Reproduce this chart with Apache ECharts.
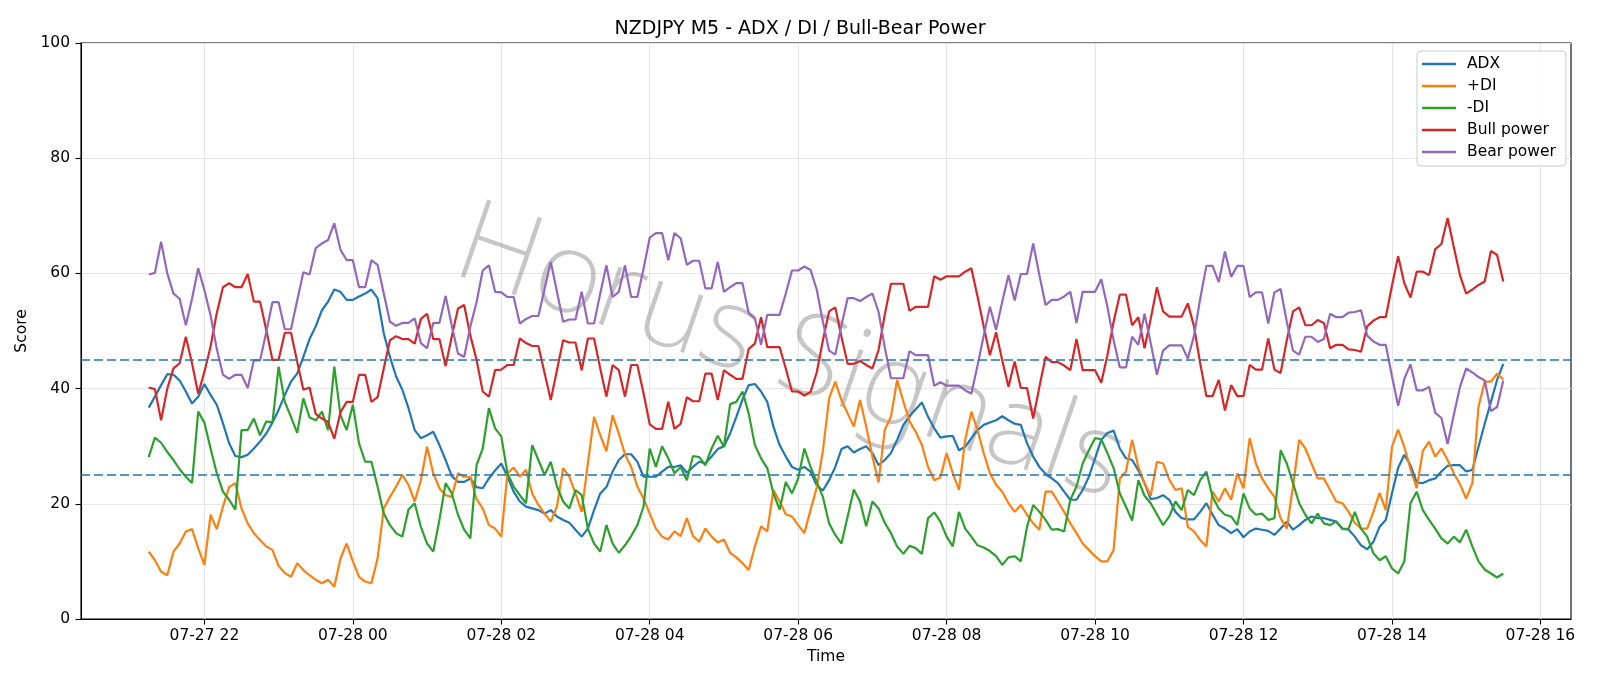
<!DOCTYPE html>
<html>
<head>
<meta charset="utf-8">
<title>NZDJPY M5 - ADX / DI / Bull-Bear Power</title>
<script src="https://cdn.jsdelivr.net/npm/echarts@6/dist/echarts.min.js"></script>
<style>
  html, body { margin: 0; padding: 0; background: #fff; }
  #main { width: 1600px; height: 686px; }
</style>
</head>
<body>
<div id="main"></div>
<script>
// 5-minute bars, 07-27 21:15 -> 07-28 15:30
const startTime = Date.UTC(2025, 6, 27, 21, 15);
const stepMs = 5 * 60 * 1000;

const tickLabels = ['07-27 22', '07-28 00', '07-28 02', '07-28 04', '07-28 06',
  '07-28 08', '07-28 10', '07-28 12', '07-28 14', '07-28 16'];

const adx = [36.7, 38.6, 40.6, 42.5, 42.4, 41.4, 39.5, 37.4, 38.6, 40.8, 38.9, 37.2, 34.0, 30.5, 28.3, 28.1, 28.5, 29.6, 30.8, 32.2, 34.1, 36.3, 38.9, 41.2, 42.6, 45.5, 48.6,
  50.8, 53.6, 55.1, 57.2, 56.8, 55.4, 55.4, 56.0, 56.5, 57.2, 55.7, 49.6, 45.5, 42.1, 39.8, 36.6, 32.8, 31.4, 31.9, 32.5, 30.2, 27.6, 24.8, 23.8, 23.8, 24.4, 22.9,
  22.7, 24.4, 25.8, 27.0, 24.7, 22.1, 20.4, 19.5, 19.2, 18.9, 18.3, 18.9, 17.8, 17.2, 16.7, 15.5, 14.3, 15.7, 18.9, 21.8, 22.9, 25.6, 27.6, 28.6, 28.6, 27.3, 24.7,
  24.7, 24.7, 25.6, 26.4, 26.4, 26.7, 25.4, 26.4, 27.3, 27.0, 28.2, 29.5, 30.0, 32.2, 35.1, 38.1, 40.6, 40.8, 39.5, 37.7, 33.4, 30.2, 28.2, 26.4, 25.9, 26.4, 25.6, 23.2,
  22.3, 24.1, 26.4, 29.5, 30.0, 28.9, 29.5, 30.0, 28.8, 26.7, 27.6, 28.8, 31.1, 33.7, 35.2, 36.4, 37.6, 35.1, 33.1, 31.5, 31.7, 31.8, 29.3, 29.9, 31.4, 32.8, 33.7, 34.1,
  34.5, 35.2, 34.5, 33.9, 33.7, 30.5, 28.2, 26.4, 25.2, 24.4, 23.6, 22.1, 20.7, 20.7, 22.4, 24.7, 27.9, 31.1, 32.3, 32.7, 29.6, 27.9, 27.6, 25.8, 23.6, 20.8, 21.0,
  21.5, 20.7, 18.6, 17.5, 17.3, 17.3, 18.6, 20.1, 18.1, 16.3, 15.7, 14.9, 15.6, 14.2, 15.2, 15.7, 15.5, 15.3, 14.6, 15.7, 16.9, 15.5, 16.3, 17.2, 17.8, 17.5, 17.5, 17.2,
  16.9, 15.7, 15.5, 14.3, 12.8, 12.1, 13.4, 16.0, 17.2, 21.8, 26.2, 28.5, 26.7, 23.7, 23.6, 24.1, 24.4, 25.6, 26.6, 26.7, 26.7, 25.6, 25.9, 29.9, 33.9, 37.7, 41.5, 44.3];

const plusDI = [11.7, 10.2, 8.2, 7.6, 11.7, 13.1, 15.2, 15.6, 12.3, 9.4, 18.1, 15.6, 19.5, 22.9, 23.6, 19.2, 16.6, 14.9, 13.7, 12.6, 12.0, 9.2, 8.0, 7.3, 9.7, 8.5, 7.6,
  6.8, 6.2, 6.8, 5.6, 10.5, 13.1, 10.0, 7.3, 6.5, 6.2, 10.5, 19.2, 21.2, 23.0, 25.0, 23.3, 20.4, 24.1, 29.9, 25.3, 22.7, 21.5, 21.2, 25.3, 24.7, 24.7, 20.8,
  19.2, 16.3, 15.7, 14.3, 25.3, 26.3, 24.7, 25.9, 21.8, 19.8, 18.3, 16.9, 19.5, 26.2, 24.7, 21.8, 18.6, 27.0, 35.1, 31.9, 29.1, 35.4, 32.2, 28.6, 26.4, 23.0, 20.9,
  18.3, 15.7, 14.3, 13.8, 15.2, 14.4, 17.5, 14.4, 13.4, 15.7, 14.3, 13.3, 13.8, 11.5, 10.7, 9.7, 8.5, 12.6, 16.1, 15.2, 22.4, 20.4, 18.2, 17.8, 16.3, 14.9, 18.9, 22.8,
  29.2, 38.3, 41.2, 38.0, 35.7, 33.4, 38.0, 33.4, 28.2, 23.7, 32.8, 35.1, 41.5, 37.8, 34.3, 32.5, 30.2, 26.4, 24.1, 24.6, 28.8, 25.3, 22.4, 31.1, 36.0, 32.8, 28.8, 25.3,
  23.3, 22.1, 20.1, 18.6, 19.8, 18.1, 16.6, 15.5, 22.1, 22.1, 20.4, 18.6, 16.6, 14.9, 13.1, 12.0, 10.9, 10.0, 10.0, 12.0, 24.4, 25.6, 31.1, 26.4, 23.6, 21.4, 27.3,
  27.0, 24.2, 22.4, 22.7, 16.0, 15.2, 13.7, 12.6, 22.1, 20.4, 22.7, 20.7, 25.3, 22.7, 31.4, 27.0, 24.4, 22.7, 21.2, 17.5, 15.7, 23.0, 31.1, 29.6, 27.0, 24.4, 24.4, 22.4,
  20.4, 20.1, 18.6, 16.7, 15.7, 15.7, 18.6, 21.9, 18.9, 29.9, 32.9, 29.9, 26.0, 22.7, 29.2, 30.8, 28.2, 29.6, 27.6, 25.3, 23.4, 20.9, 23.6, 36.9, 41.2, 41.2, 42.6, 41.6];

const minusDI = [28.1, 31.5, 30.6, 29.0, 27.6, 26.0, 24.7, 23.6, 36.0, 34.1, 29.6, 25.3, 22.1, 20.7, 19.0, 32.8, 32.8, 34.8, 31.9, 34.3, 34.1, 43.8, 37.7, 35.1, 32.3, 38.3, 35.0,
  34.5, 36.0, 32.8, 43.8, 35.4, 32.8, 37.2, 30.5, 27.3, 27.3, 23.0, 18.3, 16.3, 14.9, 14.3, 19.0, 20.1, 16.0, 13.1, 11.7, 17.2, 23.6, 21.8, 18.1, 15.5, 14.0, 26.7,
  29.6, 36.6, 33.1, 31.7, 25.3, 23.0, 21.5, 20.1, 30.2, 27.6, 25.0, 27.3, 23.0, 20.4, 19.2, 22.4, 21.5, 15.7, 13.1, 11.7, 16.3, 13.1, 11.5, 12.8, 14.4, 16.3, 19.5,
  29.6, 26.4, 30.0, 27.9, 25.3, 26.4, 24.1, 28.3, 28.1, 26.7, 29.6, 31.8, 29.9, 37.3, 37.7, 39.5, 35.7, 30.2, 27.9, 26.2, 21.8, 19.0, 23.8, 21.8, 24.4, 29.6, 26.4, 23.8,
  21.2, 16.6, 14.6, 13.1, 17.8, 22.5, 20.4, 16.1, 20.4, 19.2, 16.7, 14.9, 12.6, 11.3, 12.7, 12.3, 11.3, 17.5, 18.5, 16.9, 14.3, 12.6, 18.6, 15.7, 14.3, 12.8, 12.4, 11.8,
  10.9, 9.4, 10.7, 10.9, 10.0, 16.0, 19.8, 18.6, 17.2, 15.5, 15.6, 15.2, 20.7, 23.0, 27.0, 29.3, 31.4, 31.2, 28.8, 26.2, 21.8, 19.5, 17.1, 24.1, 21.4, 20.1, 18.2,
  16.3, 17.8, 20.4, 18.9, 22.4, 21.5, 24.1, 25.6, 21.2, 19.2, 18.1, 17.8, 16.3, 21.8, 19.2, 18.1, 18.3, 17.2, 17.5, 29.3, 27.0, 23.6, 20.1, 18.1, 16.6, 18.3, 16.6, 16.3,
  16.9, 15.6, 15.7, 18.6, 15.7, 14.3, 11.4, 10.2, 10.9, 8.8, 7.9, 10.0, 20.1, 22.1, 18.9, 17.2, 15.7, 14.0, 13.1, 14.3, 13.3, 15.5, 12.6, 10.0, 8.6, 7.9, 7.2, 7.9];

const bullPower = [40.2, 39.9, 34.5, 40.0, 43.5, 44.4, 49.0, 44.4, 39.1, 42.9, 47.3, 53.1, 57.6, 58.3, 57.6, 57.6, 59.9, 55.1, 55.1, 50.2, 45.0, 45.0, 49.7, 49.7, 44.7, 39.8, 40.2,
  35.6, 34.8, 34.2, 31.3, 35.9, 37.7, 37.7, 42.4, 42.4, 37.7, 38.5, 43.5, 48.4, 49.1, 48.6, 48.6, 47.8, 52.1, 53.0, 48.6, 48.6, 43.9, 49.1, 53.9, 54.5, 49.2, 45.0,
  39.5, 38.6, 43.2, 43.3, 44.1, 44.1, 48.7, 47.9, 47.4, 47.4, 42.7, 38.0, 43.2, 48.4, 48.0, 48.0, 43.2, 48.7, 48.7, 43.5, 38.6, 44.1, 43.2, 38.6, 44.1, 44.1, 39.2,
  33.8, 33.0, 33.0, 37.7, 33.0, 33.9, 38.5, 37.8, 37.8, 42.6, 42.6, 38.0, 43.2, 42.4, 41.7, 41.7, 46.9, 47.8, 52.4, 47.2, 47.2, 47.2, 43.5, 39.5, 39.5, 38.8, 39.4, 42.8,
  48.4, 53.4, 54.1, 49.0, 44.3, 44.3, 44.8, 44.1, 43.5, 46.7, 52.8, 58.2, 58.2, 58.2, 53.5, 54.2, 54.2, 54.2, 59.5, 58.9, 59.5, 59.5, 59.5, 60.3, 60.9, 56.0, 50.8, 45.8,
  49.8, 44.9, 40.3, 44.7, 40.1, 40.1, 34.8, 40.3, 45.5, 44.6, 44.6, 44.0, 43.2, 48.6, 43.2, 43.2, 43.2, 41.0, 45.8, 51.6, 56.3, 56.3, 51.0, 52.4, 47.0, 52.1, 57.6,
  53.4, 52.5, 52.5, 52.5, 54.8, 50.8, 44.4, 38.7, 38.7, 41.5, 36.2, 40.6, 38.7, 38.7, 44.1, 43.3, 43.3, 48.7, 43.3, 42.7, 48.4, 53.4, 54.1, 51.0, 51.0, 51.9, 51.4, 47.0,
  47.6, 47.6, 46.8, 46.7, 46.4, 50.8, 51.8, 52.4, 52.4, 57.8, 63.0, 58.3, 55.8, 60.3, 60.3, 59.7, 64.2, 65.1, 69.6, 64.6, 59.7, 56.5, 57.2, 58.0, 58.6, 63.9, 63.2, 58.6];

const bearPower = [59.8, 60.1, 65.5, 60.0, 56.5, 55.6, 51.0, 55.6, 60.9, 57.1, 52.7, 46.9, 42.4, 41.7, 42.4, 42.4, 40.1, 44.9, 44.9, 49.8, 55.0, 55.0, 50.3, 50.3, 55.3, 60.2, 59.8,
  64.4, 65.2, 65.8, 68.7, 64.1, 62.3, 62.3, 57.6, 57.6, 62.3, 61.5, 56.5, 51.6, 50.9, 51.4, 51.4, 52.2, 47.9, 47.0, 51.4, 51.4, 56.1, 50.9, 46.1, 45.5, 50.8, 55.0,
  60.5, 61.4, 56.8, 56.7, 55.9, 55.9, 51.3, 52.1, 52.6, 52.6, 57.3, 62.0, 56.8, 51.6, 52.0, 52.0, 56.8, 51.3, 51.3, 56.5, 61.4, 55.9, 56.8, 61.4, 55.9, 55.9, 60.8,
  66.2, 67.0, 67.0, 62.3, 67.0, 66.1, 61.5, 62.2, 62.2, 57.4, 57.4, 62.0, 56.8, 57.6, 58.3, 58.3, 53.1, 52.2, 47.6, 52.8, 52.8, 52.8, 56.5, 60.5, 60.5, 61.2, 60.6, 57.2,
  51.6, 46.6, 45.9, 51.0, 55.7, 55.7, 55.2, 55.9, 56.5, 53.3, 47.2, 41.8, 41.8, 41.8, 46.5, 45.8, 45.8, 45.8, 40.5, 41.1, 40.5, 40.5, 40.5, 39.7, 39.1, 44.0, 49.2, 54.2,
  50.2, 55.1, 59.7, 55.3, 59.9, 59.9, 65.2, 59.7, 54.5, 55.4, 55.4, 56.0, 56.8, 51.4, 56.8, 56.8, 56.8, 59.0, 54.2, 48.4, 43.7, 43.7, 49.0, 47.6, 53.0, 47.9, 42.4,
  46.6, 47.5, 47.5, 47.5, 45.2, 49.2, 55.6, 61.3, 61.3, 58.5, 63.8, 59.4, 61.3, 61.3, 55.9, 56.7, 56.7, 51.3, 56.7, 57.3, 51.6, 46.6, 45.9, 49.0, 49.0, 48.1, 48.6, 53.0,
  52.4, 52.4, 53.2, 53.3, 53.6, 49.2, 48.2, 47.6, 47.6, 42.2, 37.0, 41.7, 44.2, 39.7, 39.7, 40.3, 35.8, 34.9, 30.4, 35.4, 40.3, 43.5, 42.8, 42.0, 41.4, 36.1, 36.8, 41.4];

const thresholds = [45, 25];

const times = adx.map((_, i) => startTime + i * stepMs);
const span = times[times.length - 1] - times[0];
const xMin = times[0] - span * 0.05;
const xMax = times[times.length - 1] + span * 0.05;

// tick positions from the labels ("MM-DD HH")
const tickValues = tickLabels.map(s => {
  const mm = +s.slice(0, 2), dd = +s.slice(3, 5), hh = +s.slice(6, 8);
  return Date.UTC(2025, mm - 1, dd, hh, 0);
});

function pad(n) { return n < 10 ? '0' + n : '' + n; }
function fmtTime(v) {
  const d = new Date(v);
  return pad(d.getUTCMonth() + 1) + '-' + pad(d.getUTCDate()) + ' ' + pad(d.getUTCHours());
}

function pairs(arr) { return arr.map((v, i) => [times[i], v]); }

const FONT = 'DejaVu Sans';
const chart = echarts.init(document.getElementById('main'));

function lineSeries(name, data, color) {
  return {
    name: name,
    type: 'line',
    data: pairs(data),
    showSymbol: false,
    symbol: 'none',
    lineStyle: { width: 2.2, color: color },
    itemStyle: { color: color },
    z: 3
  };
}

const series = [
  lineSeries('ADX', adx, '#1f77b4'),
  lineSeries('+DI', plusDI, '#ff7f0e'),
  lineSeries('-DI', minusDI, '#2ca02c'),
  lineSeries('Bull power', bullPower, '#d62728'),
  lineSeries('Bear power', bearPower, '#9467bd')
];
series[0].markLine = {
  silent: true,
  symbol: ['none', 'none'],
  label: { show: false },
  lineStyle: { color: '#1f77b4', type: [9, 4], width: 1.6 },
  data: thresholds.map(v => ({ yAxis: v }))
};

chart.setOption({
  animation: false,
  backgroundColor: '#fff',
  textStyle: { fontFamily: FONT },
  title: {
    text: 'NZDJPY M5 - ADX / DI / Bull-Bear Power',
    left: 'center',
    top: 15,
    textStyle: { fontFamily: FONT, fontSize: 19, fontWeight: 'normal', color: '#000' }
  },
  legend: {
    orient: 'vertical',
    left: 1417,
    top: 51,
    padding: [5, 10, 6, 5],
    itemGap: 6,
    itemWidth: 34,
    itemHeight: 16,
    icon: 'path://M0,0 L34,0 L34,2.3 L0,2.3 Z',
    borderColor: '#cccccc',
    borderWidth: 1,
    borderRadius: 4,
    backgroundColor: 'rgba(255,255,255,0.8)',
    textStyle: { fontFamily: FONT, fontSize: 15.5, color: '#000', padding: [0, 0, 0, 6] },
    data: ['ADX', '+DI', '-DI', 'Bull power', 'Bear power']
  },
  // faint rotated watermark
  graphic: [{
    type: 'text',
    x: 790,
    y: 355,
    rotation: -0.33,
    z: 1,
    silent: true,
    style: {
      text: 'Horus Signals',
      fontFamily: '"Noto Sans", "DejaVu Sans"',
      fontWeight: 200,
      fontSize: 114,
      fill: '#808080',
      opacity: 0.45,
      align: 'center',
      verticalAlign: 'middle'
    }
  }],
  grid: {
    left: 81,
    right: 29,
    top: 43,
    bottom: 67,
    show: true,
    borderColor: '#000',
    borderWidth: 1.1,
    backgroundColor: 'transparent'
  },
  xAxis: {
    type: 'value',
    min: xMin,
    max: xMax,
    name: 'Time',
    nameLocation: 'middle',
    nameGap: 30,
    nameTextStyle: { fontFamily: FONT, fontSize: 15.5, color: '#000' },
    axisLine: { show: true, lineStyle: { color: '#000', width: 1.1 } },
    axisTick: { show: true, inside: false, length: 5.5, lineStyle: { color: '#000', width: 1.1 }, customValues: tickValues },
    axisLabel: {
      margin: 9,
      fontFamily: FONT,
      fontSize: 15.5,
      color: '#000',
      customValues: tickValues,
      formatter: fmtTime
    },
    splitLine: { show: true, lineStyle: { color: '#e6e6e6', width: 1.1 } }
  },
  yAxis: {
    type: 'value',
    min: 0,
    max: 100,
    interval: 20,
    name: 'Score',
    nameLocation: 'middle',
    nameGap: 37,
    nameTextStyle: { fontFamily: FONT, fontSize: 15.5, color: '#000' },
    axisLine: { show: true, lineStyle: { color: '#000', width: 1.1 } },
    axisTick: { show: true, inside: false, length: 5.5, lineStyle: { color: '#000', width: 1.1 } },
    axisLabel: { margin: 11, fontFamily: FONT, fontSize: 15.5, color: '#000' },
    splitLine: { show: true, lineStyle: { color: '#e6e6e6', width: 1.1 } }
  },
  series: series
});
</script>
</body>
</html>
